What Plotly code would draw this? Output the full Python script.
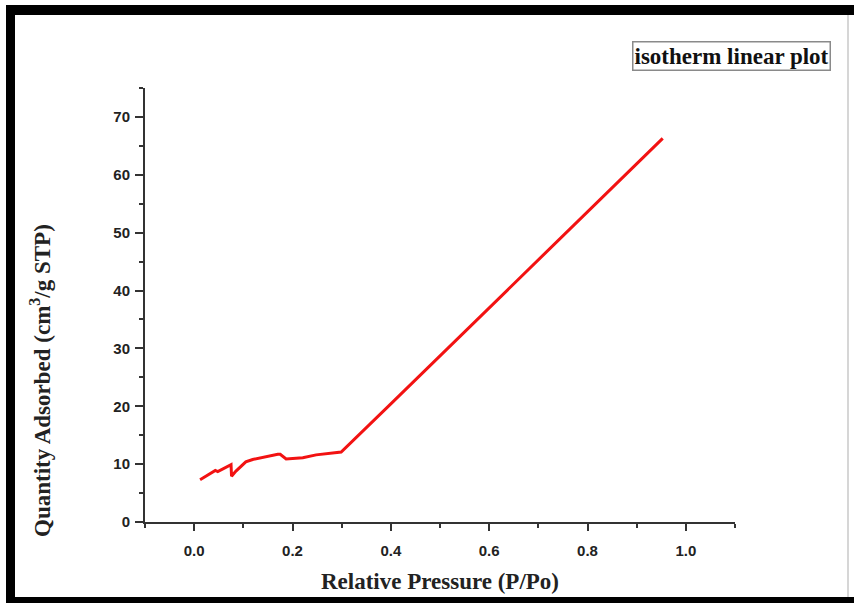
import plotly.graph_objects as go

# Nitrogen adsorption isotherm, linear plot
relative_pressure = [0.012, 0.031, 0.043, 0.048, 0.065, 0.075, 0.076, 0.085, 0.105, 0.119,
                     0.170, 0.175, 0.187, 0.221, 0.248, 0.299, 0.400, 0.500, 0.600,
                     0.700, 0.800, 0.900, 0.953]
quantity_adsorbed = [7.3, 8.3, 8.9, 8.7, 9.4, 9.9, 7.9, 8.8, 10.4, 10.8,
                     11.7, 11.7, 10.9, 11.1, 11.6, 12.1, 20.4, 28.7, 37.0,
                     45.3, 53.6, 61.9, 66.3]

x_tick_values = [0.0, 0.2, 0.4, 0.6, 0.8, 1.0]
x_tick_labels = ["0.0", "0.2", "0.4", "0.6", "0.8", "1.0"]
y_tick_values = [0, 10, 20, 30, 40, 50, 60, 70]

W, H = 854, 603
L, R, T, B = 145, 119, 88, 81
PW, PH = W - L - R, H - T - B


def px(x):
    return (x - L) / PW


def py(y):
    return (H - B - y) / PH


fig = go.Figure()
fig.add_trace(go.Scatter(
    x=relative_pressure, y=quantity_adsorbed, mode="lines",
    line=dict(color="#f21212", width=3), showlegend=False,
))

tick_font = dict(family="Liberation Sans", size=15, color="#222222", weight="bold")
title_font = dict(family="Liberation Serif", size=23, color="#222222", weight="bold")

fig.update_layout(
    width=W, height=H,
    margin=dict(l=L, r=R, t=T, b=B, pad=0),
    paper_bgcolor="white", plot_bgcolor="white",
    xaxis=dict(
        range=[-0.1, 1.1], showgrid=False, zeroline=False,
        showline=True, linecolor="#333333", linewidth=2,
        tickmode="array", tickvals=x_tick_values, ticktext=x_tick_labels,
        ticks="outside", ticklen=7, tickwidth=2, tickcolor="#333333",
        ticklabelstandoff=7, tickfont=tick_font,
        minor=dict(dtick=0.1, tick0=0, ticks="outside", ticklen=4,
                   tickwidth=2, tickcolor="#333333", showgrid=False),
    ),
    yaxis=dict(
        range=[0, 75], showgrid=False, zeroline=False,
        showline=True, linecolor="#333333", linewidth=2,
        tickmode="array", tickvals=y_tick_values,
        ticks="outside", ticklen=8, tickwidth=2, tickcolor="#333333",
        ticklabelstandoff=2, tickfont=tick_font,
        minor=dict(dtick=5, tick0=0, ticks="outside", ticklen=4,
                   tickwidth=2, tickcolor="#333333", showgrid=False),
    ),
)

# axis titles
fig.add_annotation(x=px(440), y=py(581), xref="paper", yref="paper",
                   text="Relative Pressure (P/Po)", showarrow=False,
                   font=title_font, xanchor="center", yanchor="middle")
fig.add_annotation(x=px(40), y=py(381), xref="paper", yref="paper",
                   text="Quantity Adsorbed (cm<sup>3</sup>/g STP)", showarrow=False,
                   textangle=-90, font=title_font, xanchor="center", yanchor="middle")

# label box
fig.add_annotation(x=px(731), y=py(56), xref="paper", yref="paper",
                   text="isotherm linear plot", showarrow=False,
                   font=dict(family="Liberation Serif", size=23, color="#111111", weight="bold"),
                   bordercolor="#8a8a8a", borderwidth=1.5, borderpad=1, bgcolor="white",
                   xanchor="center", yanchor="middle")

# black frame around the figure
frame = [
    (6, 5, 854, 15),     # top band
    (6, 5, 15, 603),     # left band
    (6, 597, 854, 603),  # bottom band
]
for x0, y0, x1, y1 in frame:
    fig.add_shape(type="rect", xref="paper", yref="paper",
                  x0=px(x0), x1=px(x1), y0=py(y1), y1=py(y0),
                  fillcolor="black", line=dict(width=0), layer="above")
fig.add_shape(type="line", xref="paper", yref="paper",
              x0=px(848), x1=px(848), y0=py(597), y1=py(15),
              line=dict(color="#c8c8c8", width=1.5))

fig.write_html("out.html")
